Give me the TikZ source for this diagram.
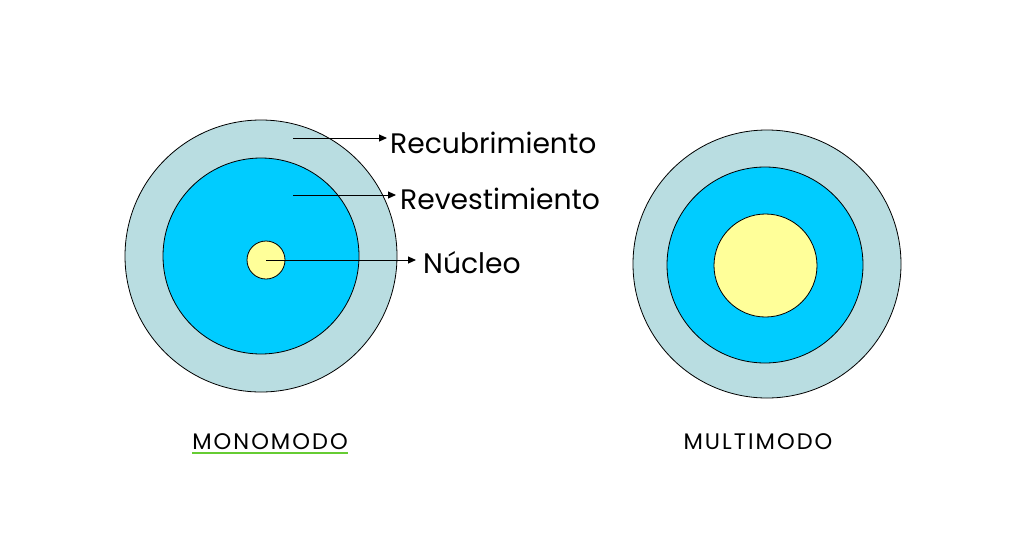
\documentclass[tikz,border=0pt]{standalone}
\usepackage{fontspec}
\setmainfont{Poppins}
\usetikzlibrary{arrows.meta,positioning}
\definecolor{fbcoat}{HTML}{B9DDE1}
\definecolor{fbclad}{HTML}{00CCFF}
\definecolor{fbcore}{HTML}{FFFF99}
\definecolor{fbgreen}{HTML}{66CC33}

\begin{document}
\begin{tikzpicture}[x=1pt, y=-1pt,
    layer/.style={circle, draw=black, line width=0.8pt, inner sep=0pt},
    pointer/.style={draw=black, line width=1pt, -{Triangle[length=8pt, width=7pt]}},
    callout/.style={anchor=base west, inner sep=0pt, font=\fontsize{28.2}{34}\selectfont},
    caption/.style={anchor=base, inner sep=0pt, font=\fontsize{22.5}{27}\selectfont\addfontfeatures{LetterSpace=9}},
  ]
  % page frame, in pixels of the slide
  \useasboundingbox (0,0) rectangle (1033,544);

  % single mode fibre: coating, cladding, thin core
  \node[layer, fill=fbcoat, minimum size=272pt] (monocoat) at (261,256) {};
  \node[layer, fill=fbclad, minimum size=196pt] (monoclad) at (261,256) {};
  \node[layer, fill=fbcore, minimum size=38pt] (monocore) at (266,260) {};

  % multimode fibre: same layers, wide core
  \node[layer, fill=fbcoat, minimum size=268pt] (multicoat) at (767,264) {};
  \node[layer, fill=fbclad, minimum size=196pt] (multiclad) at (765,265) {};
  \node[layer, fill=fbcore, minimum size=103pt] (multicore) at (765.5,265.5) {};

  % layer names, pointed at from inside each layer
  \node[callout] (coatlabel) at (390,153) {Recubrimiento};
  \node[callout] (cladlabel) at (400,209) {Revestimiento};
  \node[callout] (corelabel) at (423,273) {Núcleo};
  \coordinate (coatpt) at (293,138);
  \coordinate (cladpt) at (293,195);
  \coordinate (corept) at (monocore.center);
  \draw[pointer] (coatpt) -- ([xshift=-3pt]coatpt -| coatlabel.west);
  \draw[pointer] (cladpt) -- ([xshift=-4pt]cladpt -| cladlabel.west);
  \draw[pointer] (corept) -- ([xshift=-7pt]corept -| corelabel.west);

  % captions
  \node[caption] (monolabel) at (270,449) {MONOMODO};
  \node[caption] (multilabel) at (758,449) {MULTIMODO};
  \draw[fbgreen, line width=2pt] ([yshift=-4pt]monolabel.south west) -- ([yshift=-4pt]monolabel.south east);
\end{tikzpicture}
\end{document}
